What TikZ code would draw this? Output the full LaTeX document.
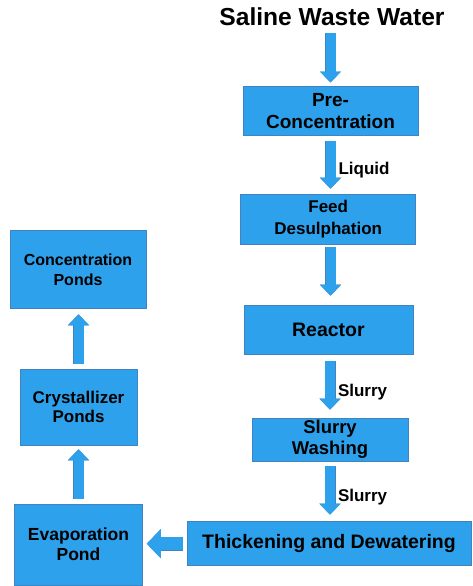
\documentclass[tikz,border=0pt]{standalone}
\usepackage{fontspec}
\setmainfont{Liberation Sans}
\usetikzlibrary{arrows.meta}
\definecolor{boxfill}{RGB}{46,161,236}
\definecolor{boxline}{RGB}{66,130,190}

\tikzstyle{bS}=[draw=boxline, fill=boxfill, line width=0.6pt, inner sep=0pt, align=center]
\tikzstyle{tS}=[inner sep=0pt, anchor=base, font=\fontsize{24.6}{28}\selectfont\bfseries]
\tikzstyle{aS}=[draw=boxfill, line width=10pt, -{Triangle[width=21pt,length=11pt,line width=0pt]}, preaction={draw=boxline, line width=11pt, -{Triangle[width=21pt,length=11pt,line width=1pt]}}]
\tikzstyle{aL}=[draw=boxfill, line width=13pt, -{Triangle[width=29pt,length=14pt,line width=0pt]}, preaction={draw=boxline, line width=14pt, -{Triangle[width=29pt,length=14pt,line width=1pt]}}]
\tikzstyle{lS}=[inner sep=0pt, anchor=west, xshift=3pt, pos=0.6, font=\fontsize{17}{20}\selectfont\bfseries]

\begin{document}
\begin{tikzpicture}[x=1pt,y=-1pt]
                \useasboundingbox (0,0) rectangle (472,586);
                \draw (332,26) node[tS] (title) {Saline Waste Water};
                % process line
                \draw (330.5,111) node[bS, minimum width=175pt, minimum height=49pt, font=\fontsize{19}{22.5}\selectfont\bfseries] (pre) {Pre-\\Concentration};
                \draw (328.2,219) node[bS, minimum width=175pt, minimum height=50pt, font=\fontsize{17}{21.3}\selectfont\bfseries] (feed) {Feed\\Desulphation};
                \draw (328.4,329.5) node[bS, minimum width=169pt, minimum height=49pt, font=\fontsize{19.5}{23}\selectfont\bfseries] (reactor) {Reactor};
                \draw (330,439.5) node[bS, minimum width=156pt, minimum height=43pt, font=\fontsize{18.5}{21}\selectfont\bfseries] (wash) {Slurry\\Washing};
                \draw (329,543.7) node[bS, minimum width=284pt, minimum height=44pt, font=\fontsize{19.5}{23}\selectfont\bfseries] (thick) {Thickening and Dewatering};
                % ponds
                \draw (78.5,544.5) node[bS, minimum width=128pt, minimum height=81pt, font=\fontsize{17.5}{20}\selectfont\bfseries] (evap) {Evaporation\\Pond};
                \draw (78.5,407) node[bS, minimum width=117pt, minimum height=76pt, font=\fontsize{17}{19.5}\selectfont\bfseries] (cryst) {Crystallizer\\Ponds};
                \draw (78,269.7) node[bS, minimum width=136pt, minimum height=78pt, font=\fontsize{16}{20}\selectfont\bfseries] (conc) {Concentration\\Ponds};
                \path
                    (pre.north |- title.south) edge[aS, shorten <=7pt, shorten >=3.7pt] (pre.north)
                    (pre.south) edge[aS, shorten <=5.5pt, shorten >=5pt] node[lS]{Liquid} (pre.south |- feed.north)
                    (pre.south |- feed.south) edge[aS, shorten <=3pt, shorten >=9pt] (pre.south |- reactor.north)
                    (wash.north |- reactor.south) edge[aS, shorten <=7pt, shorten >=8pt] node[lS]{Slurry} (wash.north)
                    (wash.south) edge[aS, shorten <=5pt, shorten >=6.7pt] node[lS]{Slurry} (wash.south |- thick.north)
                    (thick.west) edge[aL, shorten <=4pt, shorten >=4pt] (thick.west -| evap.east)
                    (evap.north) edge[aS, shorten <=5pt, shorten >=4pt] (evap.north |- cryst.south)
                    (cryst.north) edge[aS, shorten <=5pt, shorten >=5.3pt] (cryst.north |- conc.south)
                ;
\end{tikzpicture}
\end{document}
